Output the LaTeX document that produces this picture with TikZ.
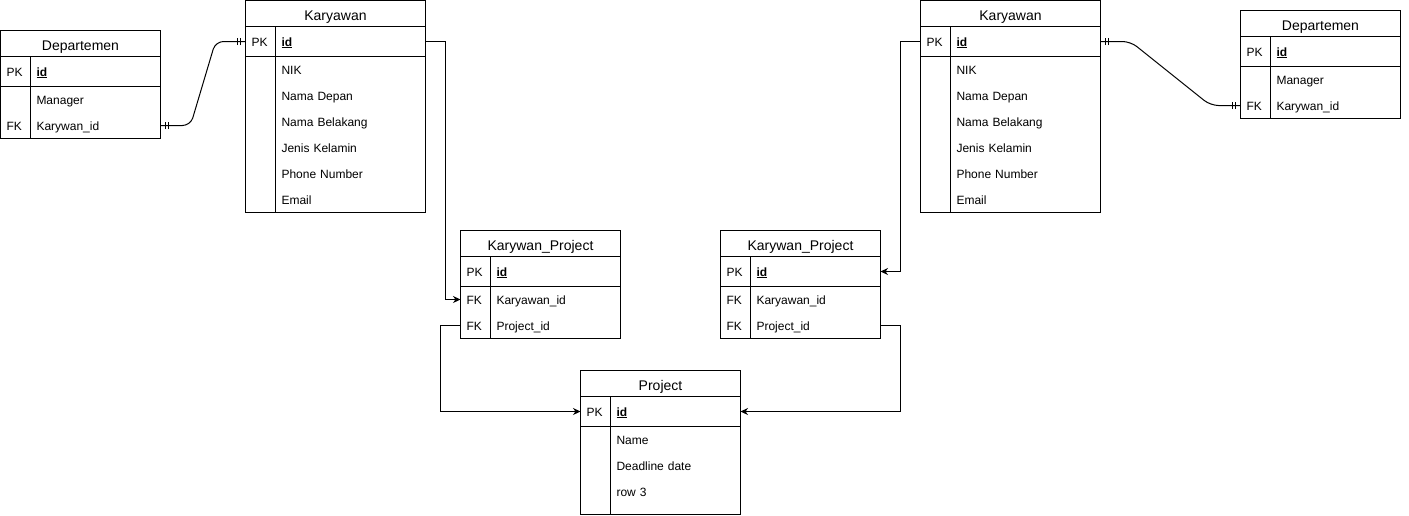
\documentclass[tikz,border=0pt]{standalone}
\usepackage{fontspec}
\setmainfont{Liberation Sans}
\usepackage{tikz}
\usetikzlibrary{arrows.meta, positioning, decorations.markings}
\newcommand{\fieldfont}{\fontsize{12}{26}\selectfont}
\newcommand{\rowstrut}{\rule[-8.5pt]{0pt}{26pt}}
\newcommand{\pkstrut}{\rule[-10.5pt]{0pt}{30pt}}

\begin{document}
\begin{tikzpicture}[
  x=1pt, y=-1pt, line width=1pt,
  tabtitle/.style={rectangle, draw, outer sep=0pt, inner sep=0pt, text height=19.5pt, text depth=6.5pt, anchor=north west, font=\fontsize{14}{16}\selectfont},
  keycol/.style={rectangle, draw, outer sep=0pt, inner xsep=6pt, inner ysep=0pt, text width=18pt, align=left, font=\fieldfont},
  fieldcol/.style={rectangle, draw, outer sep=0pt, inner xsep=6pt, inner ysep=0pt, text width=#1, align=left, font=\fieldfont},
  fkarrow/.style={-{Stealth[length=7.5pt, width=7pt]}},
  erline/.style={rounded corners=8pt, postaction={decorate}, decoration={markings,
      mark=at position 5pt with {\draw (0pt,-3.5pt) -- (0pt,3.5pt);},
      mark=at position 8pt with {\draw (0pt,-3.5pt) -- (0pt,3.5pt);},
      mark=at position -5pt with {\draw (0pt,-3.5pt) -- (0pt,3.5pt);},
      mark=at position -8pt with {\draw (0pt,-3.5pt) -- (0pt,3.5pt);}}}
]
  \fill[white] (0,0) rectangle (1409,515);

  % left Departemen
  \node[tabtitle, minimum width=160pt] (ldep) at (0.5,30.5) {Departemen};
  \node[keycol, below right=0pt and 0pt of ldep.south west] (ldep-pkk) {\pkstrut PK};
  \node[fieldcol=118pt, right=0pt of ldep-pkk] (ldep-pkf) {\pkstrut\underline{\textbf{id}}};
  \node[keycol, below right=0pt and 0pt of ldep-pkk.south west] (ldep-bk) {\rowstrut\\\rowstrut FK};
  \node[fieldcol=118pt, right=0pt of ldep-bk] (ldep-bf) {\rowstrut Manager\\\rowstrut Karywan\_id};

  % left Karyawan
  \node[tabtitle, minimum width=180pt] (lkar) at (245.5,0.5) {Karyawan};
  \node[keycol, below right=0pt and 0pt of lkar.south west] (lkar-pkk) {\pkstrut PK};
  \node[fieldcol=138pt, right=0pt of lkar-pkk] (lkar-pkf) {\pkstrut\underline{\textbf{id}}};
  \node[keycol, minimum height=156pt, below right=0pt and 0pt of lkar-pkk.south west] (lkar-bk) {};
  \node[fieldcol=138pt, right=0pt of lkar-bk] (lkar-bf) {\rowstrut NIK\\Nama Depan\\Nama Belakang\\Jenis Kelamin\\Phone Number\\\rowstrut Email};

  % left Karywan_Project
  \node[tabtitle, minimum width=160pt] (lkp) at (460.5,230.5) {Karywan\_Project};
  \node[keycol, below right=0pt and 0pt of lkp.south west] (lkp-pkk) {\pkstrut PK};
  \node[fieldcol=118pt, right=0pt of lkp-pkk] (lkp-pkf) {\pkstrut\underline{\textbf{id}}};
  \node[keycol, below right=0pt and 0pt of lkp-pkk.south west] (lkp-bk) {\rowstrut FK\\\rowstrut FK};
  \node[fieldcol=118pt, right=0pt of lkp-bk] (lkp-bf) {\rowstrut Karyawan\_id\\\rowstrut Project\_id};

  % Project
  \node[tabtitle, minimum width=160pt] (proj) at (580.5,370.5) {Project};
  \node[keycol, below right=0pt and 0pt of proj.south west] (proj-pkk) {\pkstrut PK};
  \node[fieldcol=118pt, right=0pt of proj-pkk] (proj-pkf) {\pkstrut\underline{\textbf{id}}};
  \node[keycol, minimum height=88pt, below right=0pt and 0pt of proj-pkk.south west] (proj-bk) {};
  \node[fieldcol=118pt, minimum height=88pt, right=0pt of proj-bk] (proj-bf) {\rowstrut Name\\Deadline date\\\rowstrut row 3\rule[-18.5pt]{0pt}{18.5pt}};

  % right Karywan_Project
  \node[tabtitle, minimum width=160pt] (rkp) at (720.5,230.5) {Karywan\_Project};
  \node[keycol, below right=0pt and 0pt of rkp.south west] (rkp-pkk) {\pkstrut PK};
  \node[fieldcol=118pt, right=0pt of rkp-pkk] (rkp-pkf) {\pkstrut\underline{\textbf{id}}};
  \node[keycol, below right=0pt and 0pt of rkp-pkk.south west] (rkp-bk) {\rowstrut FK\\\rowstrut FK};
  \node[fieldcol=118pt, right=0pt of rkp-bk] (rkp-bf) {\rowstrut Karyawan\_id\\\rowstrut Project\_id};

  % right Karyawan
  \node[tabtitle, minimum width=180pt] (rkar) at (920.5,0.5) {Karyawan};
  \node[keycol, below right=0pt and 0pt of rkar.south west] (rkar-pkk) {\pkstrut PK};
  \node[fieldcol=138pt, right=0pt of rkar-pkk] (rkar-pkf) {\pkstrut\underline{\textbf{id}}};
  \node[keycol, minimum height=156pt, below right=0pt and 0pt of rkar-pkk.south west] (rkar-bk) {};
  \node[fieldcol=138pt, right=0pt of rkar-bk] (rkar-bf) {\rowstrut NIK\\Nama Depan\\Nama Belakang\\Jenis Kelamin\\Phone Number\\\rowstrut Email};

  % right Departemen
  \node[tabtitle, minimum width=160pt] (rdep) at (1240.5,10.5) {Departemen};
  \node[keycol, below right=0pt and 0pt of rdep.south west] (rdep-pkk) {\pkstrut PK};
  \node[fieldcol=118pt, right=0pt of rdep-pkk] (rdep-pkf) {\pkstrut\underline{\textbf{id}}};
  \node[keycol, below right=0pt and 0pt of rdep-pkk.south west] (rdep-bk) {\rowstrut\\\rowstrut FK};
  \node[fieldcol=118pt, right=0pt of rdep-bk] (rdep-bf) {\rowstrut Manager\\\rowstrut Karywan\_id};

  % relations
  \draw[erline] ([yshift=13pt]ldep-bf.south east) -- ++(30,0) -- ([xshift=-30pt]lkar-pkk.west) -- (lkar-pkk.west);
  \draw[erline] (rkar-pkf.east) -- ++(30,0) -- ([xshift=-30pt,yshift=13pt]rdep-bk.south west) -- ([yshift=13pt]rdep-bk.south west);
  \draw[fkarrow] (lkar-pkf.east) -- ++(20,0) |- ([yshift=-13pt]lkp-bk.north west);
  \draw[fkarrow] ([yshift=13pt]lkp-bk.south west) -- ++(-20,0) |- (proj-pkk.west);
  \draw[fkarrow] ([yshift=13pt]rkp-bf.south east) -- ++(20,0) |- (proj-pkf.east);
  \draw[fkarrow] (rkar-pkk.west) -- ++(-20,0) |- (rkp-pkf.east);
\end{tikzpicture}
\end{document}
